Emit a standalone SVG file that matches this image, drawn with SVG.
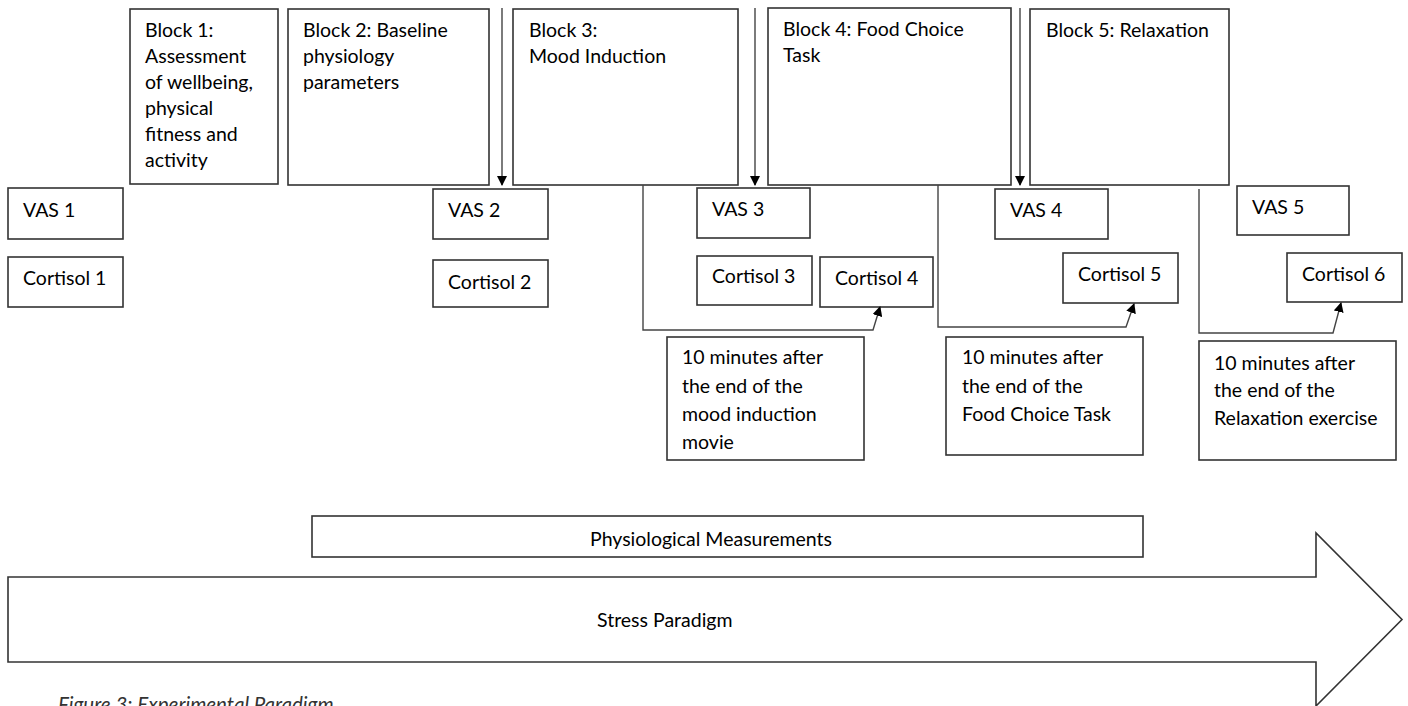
<svg xmlns="http://www.w3.org/2000/svg" width="1408" height="706" viewBox="0 0 1408 706">
<style>
.box{fill:#fff;stroke:#333;stroke-width:1.6}
text{font-family:Lato,"Liberation Sans",sans-serif;font-size:19.5px;fill:#000}
.con{fill:none;stroke:#444;stroke-width:1.4}
.cap{font-style:italic;fill:#333;font-size:20.5px}
</style>
<defs>
<marker id="ah" markerWidth="10" markerHeight="10" refX="9" refY="5" orient="auto" markerUnits="userSpaceOnUse">
<path d="M0,0 L10,5 L0,10 Z" fill="#000"/>
</marker>
</defs>
<rect width="1408" height="706" fill="#fff"/>

<g id="stress">
<path class="box" d="M8,577 H1316 V533 L1402,619.5 L1316,706 V662 H8 Z"/>
<text x="597" y="627">Stress Paradigm</text>
</g>
<g id="physio">
<rect class="box" x="312" y="516" width="831" height="41"/>
<text x="711" y="546" text-anchor="middle">Physiological Measurements</text>
</g>

<g id="block1">
<rect class="box" x="130" y="9" width="148" height="175"/>
<text x="145" y="37">Block 1:</text>
<text x="145" y="63">Assessment</text>
<text x="145" y="89">of wellbeing,</text>
<text x="145" y="115">physical</text>
<text x="145" y="141">fitness and</text>
<text x="145" y="167">activity</text>
</g>
<g id="block2">
<rect class="box" x="288" y="9" width="201" height="176"/>
<text x="303" y="37">Block 2: Baseline</text>
<text x="303" y="63">physiology</text>
<text x="303" y="89">parameters</text>
</g>
<g id="block3">
<rect class="box" x="513" y="9" width="225" height="176"/>
<text x="529" y="37">Block 3:</text>
<text x="529" y="63">Mood Induction</text>
</g>
<g id="block4">
<rect class="box" x="768" y="8" width="243" height="177"/>
<text x="783" y="36">Block 4: Food Choice</text>
<text x="783" y="62">Task</text>
</g>
<g id="block5">
<rect class="box" x="1030" y="9" width="199" height="176"/>
<text x="1046" y="37">Block 5: Relaxation</text>
</g>

<g id="vas1"><rect class="box" x="8" y="188" width="115" height="51"/><text x="23" y="217">VAS 1</text></g>
<g id="cortisol1"><rect class="box" x="8" y="257" width="115" height="50"/><text x="23" y="285">Cortisol 1</text></g>
<g id="vas2"><rect class="box" x="433" y="189" width="115" height="50"/><text x="448" y="217">VAS 2</text></g>
<g id="cortisol2"><rect class="box" x="433" y="260" width="115" height="47"/><text x="448" y="289">Cortisol 2</text></g>
<g id="vas3"><rect class="box" x="697" y="188" width="113" height="50"/><text x="712" y="216">VAS 3</text></g>
<g id="cortisol3"><rect class="box" x="697" y="256" width="115" height="49"/><text x="712" y="283">Cortisol 3</text></g>
<g id="cortisol4"><rect class="box" x="820" y="257" width="113" height="50"/><text x="835" y="285">Cortisol 4</text></g>
<g id="vas4"><rect class="box" x="995" y="189" width="113" height="50"/><text x="1010" y="217">VAS 4</text></g>
<g id="cortisol5"><rect class="box" x="1063" y="253" width="115" height="50"/><text x="1078" y="281">Cortisol 5</text></g>
<g id="vas5"><rect class="box" x="1237" y="186" width="112" height="49"/><text x="1252" y="214">VAS 5</text></g>
<g id="cortisol6"><rect class="box" x="1287" y="253" width="115" height="49"/><text x="1302" y="281">Cortisol 6</text></g>

<g id="note1">
<rect class="box" x="667" y="337" width="197" height="123"/>
<text x="682" y="364">10 minutes after</text>
<text x="682" y="393">the end of the</text>
<text x="682" y="421">mood induction</text>
<text x="682" y="449">movie</text>
</g>
<g id="note2">
<rect class="box" x="946" y="337" width="197" height="118"/>
<text x="962" y="364">10 minutes after</text>
<text x="962" y="393">the end of the</text>
<text x="962" y="421">Food Choice Task</text>
</g>
<g id="note3">
<rect class="box" x="1199" y="341" width="197" height="119"/>
<text x="1214" y="370">10 minutes after</text>
<text x="1214" y="397">the end of the</text>
<text x="1214" y="425">Relaxation exercise</text>
</g>

<g id="connectors">
<path class="con" d="M502,8 V185" marker-end="url(#ah)"/>
<path class="con" d="M755,8 V185" marker-end="url(#ah)"/>
<path class="con" d="M1020,8 V185" marker-end="url(#ah)"/>
<path class="con" d="M643,185 V330 H873 L880,307" marker-end="url(#ah)"/>
<path class="con" d="M938,185 V327 H1126 L1134,304" marker-end="url(#ah)"/>
<path class="con" d="M1199,189 V333 H1333 L1341,303" marker-end="url(#ah)"/>
</g>

<text class="cap" x="58" y="712">Figure 3: Experimental Paradigm</text>
</svg>
